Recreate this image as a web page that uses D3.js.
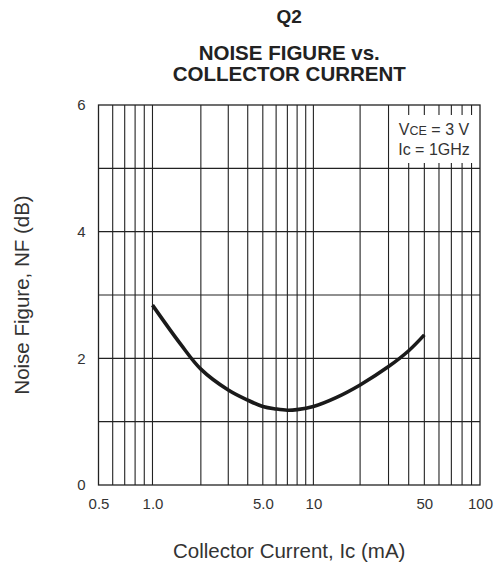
<!DOCTYPE html>
<html>
<head>
<meta charset="utf-8">
<script src="https://cdn.jsdelivr.net/npm/d3@7/dist/d3.min.js"></script>
<style>
  html, body { margin: 0; padding: 0; background: #fff; }
  svg { display: block; font-family: "Liberation Sans", Arial, Helvetica, sans-serif; }
</style>
</head>
<body>
<svg id="chart" width="499" height="569"></svg>
<script>
// ---- data ----
const currents = [1, 1.5, 2, 3, 4, 5, 6, 7, 8, 10, 14, 20, 30, 40, 50];   // Ic (mA)
const noiseFigure = [2.84, 2.22, 1.83, 1.50, 1.34, 1.24, 1.20, 1.18, 1.19, 1.24, 1.38, 1.58, 1.87, 2.12, 2.37]; // NF (dB)
const xTickValues = [0.5, 1, 5, 10, 50, 100];
const xTickLabels = ["0.5", "1.0", "5.0", "10", "50", "100"];
const xGridValues = [0.6, 0.7, 0.8, 0.9, 1, 2, 3, 4, 5, 6, 7, 8, 9, 10, 20, 30, 40, 50, 60, 70, 80, 90];
const yTickValues = [0, 2, 4, 6];
const yTickLabels = ["0", "2", "4", "6"];
const yGridValues = [1, 2, 3, 4, 5];
const titleLines = ["NOISE FIGURE vs.", "COLLECTOR CURRENT"];
const subTitle = "Q2";
const xLabel = "Collector Current, Ic (mA)";
const yLabel = "Noise Figure, NF (dB)";

// ---- layout ----
const svg = d3.select("#chart");
const L = 98.5, R = 480, T = 105, B = 485;
const W = R - L;
// log scale with a few knots (the printed grid is slightly uneven)
const knotVals = [0.5, 1, 2, 5, 10, 20, 50, 100];
const knotFrac = [0, 0.1415, 0.2683, 0.4307, 0.5633, 0.6857, 0.8541, 1];
const x = d3.scaleLog().domain(knotVals).range(knotFrac.map(f => L + f * W));
const y = d3.scaleLinear().domain([0, 6]).range([B, T]);

const ink = "#222";

// grid
svg.append("g").selectAll("line").data(xGridValues).join("line")
  .attr("x1", d => x(d)).attr("x2", d => x(d))
  .attr("y1", T).attr("y2", B)
  .attr("stroke", ink).attr("stroke-width", 1.1);
svg.append("g").selectAll("line").data(yGridValues).join("line")
  .attr("x1", L).attr("x2", R)
  .attr("y1", d => y(d)).attr("y2", d => y(d))
  .attr("stroke", ink).attr("stroke-width", 1.1);

// frame
svg.append("rect").attr("x", L).attr("y", T).attr("width", R - L).attr("height", B - T)
  .attr("fill", "none").attr("stroke", ink).attr("stroke-width", 1.3);

// legend box (covers grid)
const lgX = x(30) + 1.5, lgY = 115, lgW = R - 2 - lgX, lgH = 48;
svg.append("rect").attr("x", lgX).attr("y", lgY).attr("width", lgW).attr("height", lgH).attr("fill", "#fff");
const lcx = lgX + lgW / 2;
const t1 = svg.append("text").attr("x", lcx).attr("y", 135).attr("text-anchor", "middle")
  .attr("font-size", 16).attr("fill", "#333");
t1.append("tspan").text("V");
t1.append("tspan").attr("font-size", 12.5).text("CE");
t1.append("tspan").text(" = 3 V");
svg.append("text").attr("x", lcx).attr("y", 155).attr("text-anchor", "middle")
  .attr("font-size", 16).attr("fill", "#333").text("Ic = 1GHz");

// curve
const pts = currents.map((c, i) => [c, noiseFigure[i]]);
svg.append("path").datum(pts)
  .attr("d", d3.line().x(d => x(d[0])).y(d => y(d[1])).curve(d3.curveCatmullRom))
  .attr("fill", "none").attr("stroke", "#1a1a1a").attr("stroke-width", 3.6);

// x axis
const xAxis = d3.axisBottom(x).tickValues(xTickValues)
  .tickFormat((d, i) => xTickLabels[i]).tickSize(0).tickPadding(13);
const gx = svg.append("g").attr("transform", `translate(0,${B})`).call(xAxis);
gx.select(".domain").remove();
gx.selectAll("text").attr("font-size", 15).attr("fill", "#333")
  .attr("font-family", "'Liberation Sans', Arial, sans-serif");

// y axis
const yAxis = d3.axisLeft(y).tickValues(yTickValues)
  .tickFormat((d, i) => yTickLabels[i]).tickSize(0).tickPadding(13);
const gy = svg.append("g").attr("transform", `translate(${L},0)`).call(yAxis);
gy.select(".domain").remove();
gy.selectAll("text").attr("font-size", 15).attr("fill", "#333")
  .attr("font-family", "'Liberation Sans', Arial, sans-serif");

// titles
const cx = (L + R) / 2;
svg.append("text").attr("x", cx).attr("y", 23).attr("text-anchor", "middle")
  .attr("font-size", 19).attr("font-weight", "bold").attr("fill", "#222").text(subTitle);
svg.append("g").selectAll("text").data(titleLines).join("text")
  .attr("x", cx).attr("y", (d, i) => 60 + i * 21).attr("text-anchor", "middle")
  .attr("font-size", 20.5).attr("font-weight", "bold").attr("fill", "#222").text(d => d);

// axis labels
svg.append("text").attr("x", cx).attr("y", 558).attr("text-anchor", "middle")
  .attr("font-size", 20.5).attr("fill", "#333").text(xLabel);
svg.append("text").attr("transform", `translate(29,${(T + B) / 2}) rotate(-90)`)
  .attr("text-anchor", "middle").attr("font-size", 20.5).attr("fill", "#333").text(yLabel);
</script>
</body>
</html>
